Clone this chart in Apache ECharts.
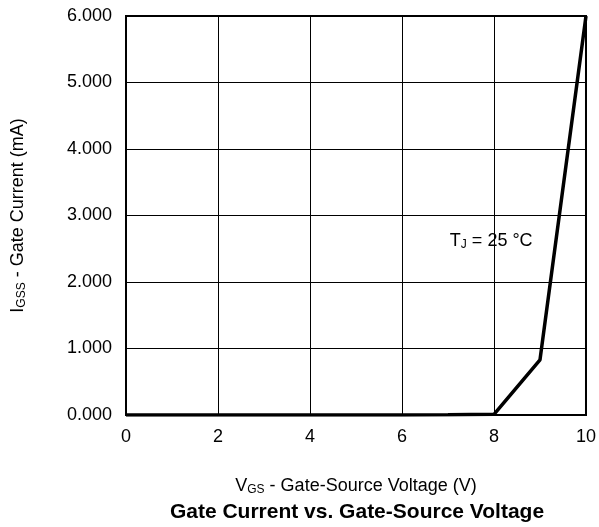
<!DOCTYPE html>
<html><head><meta charset="utf-8">
<script src="https://cdn.jsdelivr.net/npm/echarts@6/dist/echarts.min.js"></script>
<style>html,body{margin:0;padding:0;background:#fff}#c{width:599px;height:527px}</style>
</head><body><div id="c"></div>
<script>
var vgs = [0, 2, 4, 6, 7, 8, 9, 10];
var igss = [0, 0, 0, 0, 0.002, 0.01, 0.83, 6.0];
var xTicks = [0, 2, 4, 6, 8, 10];
var yTicks = [0, 1, 2, 3, 4, 5, 6];
var annotation = {x: 7.94, y: 2.62};

var F = 'Liberation Sans, Arial, Helvetica, sans-serif';
var richSub = function (size) {
  return {
    n: {fontFamily: F, fontSize: size, color: '#000', lineHeight: 22},
    s: {fontFamily: F, fontSize: Math.round(size * 0.67), color: '#000', lineHeight: 22, padding: [7, 0, 0, 0]}
  };
};
var chart = echarts.init(document.getElementById('c'));
chart.setOption({
  animation: false,
  backgroundColor: '#fff',
  title: {
    text: 'Gate Current vs. Gate-Source Voltage',
    left: 357, top: 500, textAlign: 'center', padding: 0,
    textStyle: {fontFamily: F, fontSize: 21, fontWeight: 'bold', color: '#000', lineHeight: 24}
  },
  grid: {left: 126, right: 11, top: 16, bottom: 112, show: true, borderColor: '#000', borderWidth: 2, backgroundColor: 'transparent'},
  xAxis: {
    type: 'value', min: 0, max: 10, interval: 2,
    axisLine: {show: true, lineStyle: {color: '#000', width: 2}},
    axisTick: {show: false},
    splitLine: {show: true, lineStyle: {color: '#000', width: 1}},
    axisLabel: {margin: 13, fontFamily: F, fontSize: 18, color: '#000'},
    name: '{n|V}{s|GS}{n| - Gate-Source Voltage (V)}',
    nameLocation: 'middle', nameGap: 60,
    nameTextStyle: {rich: richSub(18)}
  },
  yAxis: {
    type: 'value', min: 0, max: 6, interval: 1,
    axisLine: {show: true, lineStyle: {color: '#000', width: 2}},
    axisTick: {show: false},
    splitLine: {show: true, lineStyle: {color: '#000', width: 1}},
    axisLabel: {margin: 14, fontFamily: F, fontSize: 18, color: '#000', formatter: function (v) { return v.toFixed(3); }},
    name: '{n|I}{s|GSS}{n| - Gate Current (mA)}',
    nameLocation: 'middle', nameGap: 97, nameRotate: 90,
    nameTextStyle: {rich: richSub(18)}
  },
  series: [{
    type: 'line',
    data: vgs.map(function (x, i) { return [x, igss[i]]; }),
    symbol: 'none',
    lineStyle: {color: '#000', width: 3.5},
    markPoint: {
      symbol: 'circle', symbolSize: 0,
      data: [{coord: [annotation.x, annotation.y]}],
      label: {
        show: true, position: 'inside',
        formatter: '{n|T}{s|J}{n| = 25 °C}',
        rich: richSub(18)
      }
    }
  }]
});
</script></body></html>
